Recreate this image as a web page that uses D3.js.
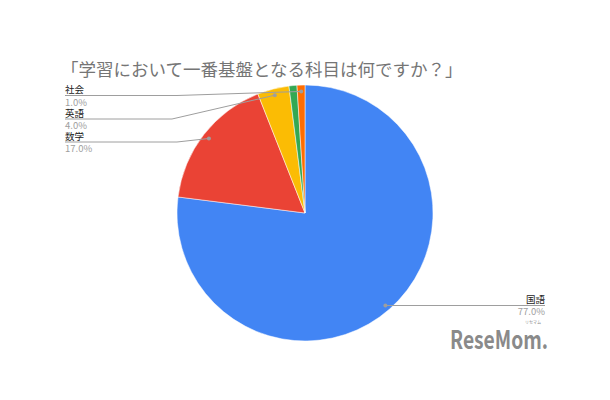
<!DOCTYPE html>
<html><head><meta charset="utf-8">
<script src="https://cdn.jsdelivr.net/npm/d3@7"></script>
<style>body{margin:0;background:#fff}svg{display:block}text{font-family:"Noto Sans CJK JP","Noto Sans",sans-serif}</style>
</head><body>
<script>
const categories = ["国語","数学","英語","理科","社会"];
const values = [77,17,4,1,1];
const colors = ["#4285F4","#EA4335","#FBBC04","#34A853","#FF6D01"];
const showLabel = [true,true,true,false,true];
const title = "「学習において一番基盤となる科目は何ですか？」";

const W=610,H=400;
const svg=d3.select("body").append("svg").attr("width",W).attr("height",H);
svg.append("text").attr("x",61).attr("y",76).attr("font-size",17.5).attr("fill","#757575").text(title);

const cx=305, cy=213, r=128;
const pie=d3.pie().sort(null).value(d=>d.v);
const data=pie(categories.map((c,i)=>({c,v:values[i],col:colors[i],show:showLabel[i]})));
const arc=d3.arc().innerRadius(0).outerRadius(r);
const g=svg.append("g").attr("transform",`translate(${cx},${cy})`);
g.selectAll("path").data(data).join("path").attr("d",arc).attr("fill",d=>d.data.col)
  .attr("stroke","#fff").attr("stroke-width",0.5);

const layout={
  "社会":{side:"L",y:95.5,knee:177},
  "英語":{side:"L",y:119,knee:172},
  "数学":{side:"L",y:142,knee:177},
  "国語":{side:"R",y:305.5,knee:null}
};
const fmt=v=>v.toFixed(1)+"%";
const fs=9.5;
const numFont="Roboto,'Liberation Sans',sans-serif";
data.filter(d=>d.data.show).forEach(d=>{
  const L=layout[d.data.c];
  const frac=0.95;
  const a=(d.startAngle+d.endAngle)/2;
  const px=cx+Math.sin(a)*r*frac, py=cy-Math.cos(a)*r*frac;
  if(L.side==="L"){
    svg.append("path").attr("d",`M65,${L.y}L${L.knee},${L.y}L${px},${py}`).attr("fill","none").attr("stroke","#9e9e9e").attr("stroke-width",1);
    svg.append("text").attr("x",65).attr("y",L.y-2.5).attr("font-size",fs).attr("fill","#222").text(d.data.c);
    svg.append("text").attr("x",65).attr("y",L.y+10).attr("font-size",fs).attr("font-family",numFont).attr("fill","#9e9e9e").text(fmt(d.data.v));
    svg.append("circle").attr("cx",px).attr("cy",py).attr("r",2).attr("fill","#9e9e9e");
  } else {
    svg.append("path").attr("d",`M${px},${L.y}L545,${L.y}`).attr("fill","none").attr("stroke","#9e9e9e").attr("stroke-width",1);
    svg.append("text").attr("x",545).attr("y",L.y-3).attr("text-anchor","end").attr("font-size",fs).attr("fill","#222").text(d.data.c);
    svg.append("text").attr("x",545).attr("y",L.y+9.5).attr("text-anchor","end").attr("font-size",fs).attr("font-family",numFont).attr("fill","#9e9e9e").text(fmt(d.data.v));
    svg.append("circle").attr("cx",px).attr("cy",L.y).attr("r",2).attr("fill","#9e9e9e");
  }
});

// logo
svg.append("text").attr("x",450).attr("y",349).attr("font-size",25).attr("font-weight","bold")
  .attr("font-family","'Liberation Sans',Arial,sans-serif").attr("fill","#8a8a8a")
  .attr("textLength",98).attr("lengthAdjust","spacingAndGlyphs").text("ReseMom.");
svg.append("text").attr("x",533).attr("y",323.5).attr("font-size",4).attr("text-anchor","middle").attr("fill","#8a8a8a").text("リセマム");
</script>
</body></html>
